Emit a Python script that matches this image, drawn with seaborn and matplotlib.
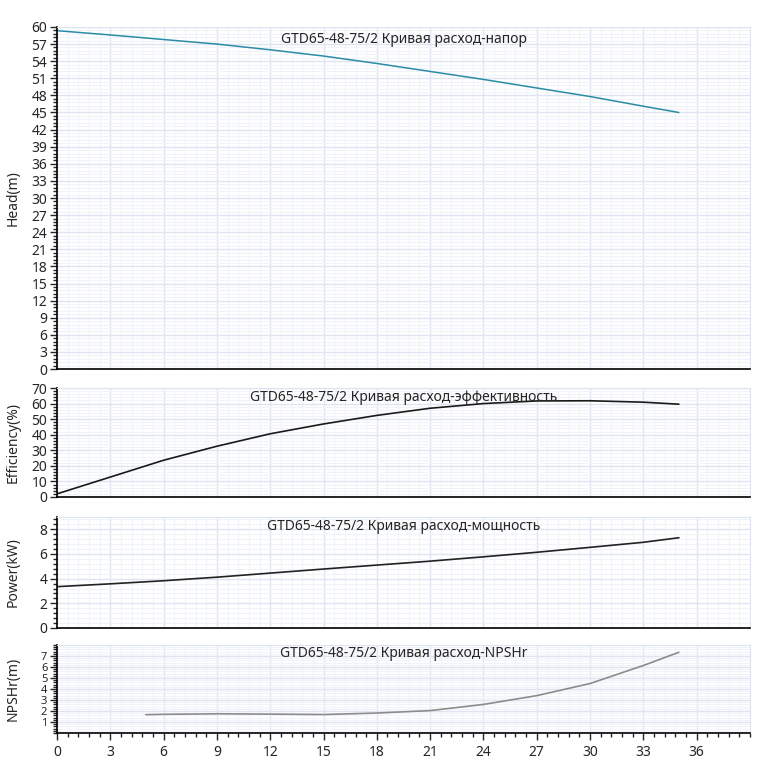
import seaborn as sns
import pandas as pd
import matplotlib.pyplot as plt
from matplotlib.ticker import MultipleLocator, FixedLocator

# flow (m3/h) and curve values
flow = [0, 3, 6, 9, 12, 15, 18, 21, 24, 27, 30, 33, 35]
head = [59.35, 58.6, 57.8, 57.0, 56.0, 54.9, 53.6, 52.2, 50.8, 49.3, 47.8, 46.1, 45.0]
efficiency = [2.0, 12.8, 23.6, 32.6, 40.6, 46.9, 52.4, 57.0, 60.0, 61.7, 61.8, 60.9, 59.6]
power = [3.35, 3.58, 3.83, 4.12, 4.45, 4.78, 5.1, 5.42, 5.77, 6.14, 6.54, 6.95, 7.32]

npsh_flow = [5, 6, 9, 12, 15, 18, 21, 24, 27, 30, 33, 35]
npshr = [1.67, 1.70, 1.75, 1.72, 1.68, 1.82, 2.04, 2.6, 3.4, 4.5, 6.14, 7.34]

model = "GTD65-48-75/2"
titles = ["Кривая расход-напор", "Кривая расход-эффективность",
          "Кривая расход-мощность", "Кривая расход-NPSHr"]
ylabels = ["Head(m)", "Efficiency(%)", "Power(kW)", "NPSHr(m)"]
xticks = [0, 3, 6, 9, 12, 15, 18, 21, 24, 27, 30, 33, 36]

sns.set_style("white")
plt.rcParams['font.family'] = ['Noto Sans', 'DejaVu Sans']
plt.rcParams['font.size'] = 10

fig = plt.figure(figsize=(7.62, 7.62), dpi=100)
left, width = 0.0748, 0.9094
boxes = [(0.5157, 0.4489), (0.3478, 0.1430), (0.1759, 0.1456), (0.0380, 0.1155)]
axes = [fig.add_axes([left, b, width, h]) for b, h in boxes]

sns.lineplot(x=flow, y=head, ax=axes[0], color="#2b8ca6", lw=1.1)
sns.lineplot(x=flow, y=efficiency, ax=axes[1], color="#1a1a1a", lw=1.2)
sns.lineplot(x=flow, y=power, ax=axes[2], color="#222222", lw=1.2)
sns.lineplot(x=npsh_flow, y=npshr, ax=axes[3], color="#8c8c8c", lw=1.2)

ylims = [(0, 60), (0, 70), (0, 9), (0, 8)]
major = [3, 10, 2, 1]
minor = [0.6, 2, 0.4, 0.2]

for i, ax in enumerate(axes):
    ax.set_xlim(0, 39)
    ax.set_ylim(*ylims[i])
    ax.xaxis.set_major_locator(FixedLocator(xticks))
    ax.xaxis.set_minor_locator(MultipleLocator(0.6))
    if i == 3:
        ax.yaxis.set_major_locator(FixedLocator([1, 2, 3, 4, 5, 6, 7]))
    else:
        ax.yaxis.set_major_locator(MultipleLocator(major[i]))
    ax.yaxis.set_minor_locator(MultipleLocator(minor[i]))
    ax.grid(which="major", color="#dfe5f0", lw=1.0)
    ax.grid(which="minor", color="#f0f3f9", lw=0.8)
    ax.set_axisbelow(True)
    for s in ["top", "right"]:
        ax.spines[s].set_color("#dfe5f0")
    for s in ["left", "bottom"]:
        ax.spines[s].set_color("black")
        ax.spines[s].set_linewidth(1.2)
    ax.tick_params(axis="y", which="major", direction="out", length=5, width=1,
                   left=True, labelsize=8 if i == 3 else 10, pad=2)
    ax.tick_params(axis="y", which="minor", direction="out", length=3, width=1, left=True)
    if i == 3:
        ax.tick_params(axis="x", which="major", direction="out", length=5, width=1,
                       bottom=True, labelsize=10)
        ax.tick_params(axis="x", which="minor", direction="out", length=3, width=1,
                       bottom=True)
    else:
        ax.tick_params(axis="x", which="both", bottom=False, labelbottom=False)
    ax.set_ylabel(ylabels[i], fontsize=10)
    ax.yaxis.set_label_coords(-0.053, 0.5)
    ax.text(0.5, 0.985, f"{model} {titles[i]}", transform=ax.transAxes,
            ha="center", va="top", fontsize=10)

fig.savefig("out.png", dpi=100)
